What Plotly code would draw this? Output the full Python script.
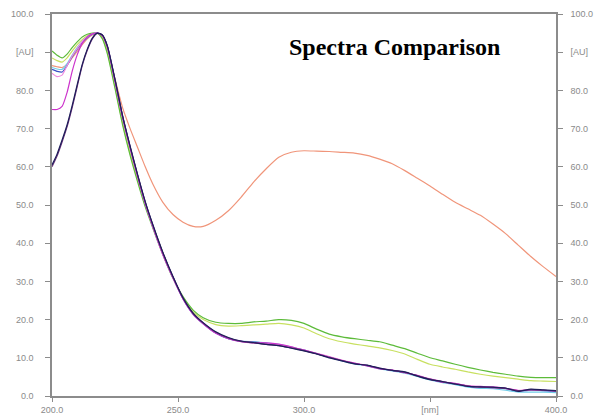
import plotly.graph_objects as go

# Wavelength grid (nm)
wl = [200, 202, 204, 206, 208, 210, 212, 214, 216, 218, 220, 222, 225, 228, 231, 234, 237, 240,
      244, 248, 252, 256, 260, 265, 270, 275, 280, 285, 290, 295, 300, 305, 310, 315, 320, 325,
      330, 335, 340, 345, 350, 355, 360, 365, 370, 375, 380, 385, 390, 395, 400]

orange = [86.5, 86.2, 86.0, 86.8, 88.5, 90.2, 92.0, 93.5, 94.5, 95.0, 93.8, 90.5, 83.0, 75.5, 70.0,
          65.0, 60.0, 55.5, 50.7, 47.5, 45.5, 44.4, 44.4, 46.0, 48.5, 52.0, 56.0, 59.5, 62.5, 63.8,
          64.2, 64.1, 64.0, 63.8, 63.6, 63.0, 62.0, 60.8, 59.0, 57.0, 55.0, 52.8, 50.7, 49.0, 47.3,
          45.0, 42.5, 39.5, 36.5, 33.8, 31.3]

green = [90.3, 89.2, 88.5, 89.5, 91.2, 92.7, 94.0, 94.7, 95.0, 95.0, 93.5, 89.5, 80.5, 71.0, 63.0,
         56.0, 49.5, 44.0, 37.0, 30.8, 26.0, 22.5, 20.5, 19.3, 19.0, 19.0, 19.4, 19.6, 20.0, 19.8,
         19.0, 17.5, 16.2, 15.5, 15.0, 14.6, 14.2, 13.3, 12.4, 11.2, 10.0, 9.2, 8.3, 7.5, 6.8,
         6.2, 5.7, 5.2, 4.9, 4.8, 4.8]

yellowgreen = [88.5, 87.8, 87.4, 88.5, 90.3, 92.0, 93.3, 94.3, 94.9, 95.0, 93.8, 90.0, 81.0, 71.5, 63.5,
               56.5, 50.0, 44.5, 37.5, 31.0, 25.8, 22.0, 20.0, 18.7, 18.3, 18.4, 18.6, 18.8, 19.0, 18.6,
               17.8, 16.3, 15.0, 14.2, 13.6, 13.1, 12.6, 11.9, 11.0, 9.6, 8.3, 7.6, 7.0, 6.3, 5.7,
               5.2, 4.8, 4.4, 4.0, 3.9, 3.8]

pink = [84.5, 83.6, 84.0, 86.5, 89.0, 91.0, 92.8, 94.0, 94.8, 95.0, 94.3, 91.3, 82.5, 73.0, 65.0,
        57.5, 50.5, 44.5, 37.2, 31.0, 25.5, 21.5, 19.0, 16.6, 15.1, 14.4, 14.0, 13.7, 13.4, 12.8,
        12.0, 11.2, 10.3, 9.4, 8.6, 8.0, 7.3, 6.8, 6.2, 5.3, 4.5, 3.8, 3.2, 2.7, 2.3,
        2.2, 2.0, 1.5, 1.6, 1.5, 1.3]

magenta = [75.0, 75.0, 75.8, 79.5, 85.0, 89.3, 92.3, 94.0, 94.8, 95.0, 94.3, 91.2, 82.3, 72.8, 64.8,
           57.3, 50.3, 44.3, 37.0, 30.9, 25.4, 21.4, 18.9, 16.4, 15.0, 14.2, 13.9, 13.9, 13.6, 12.9,
           12.0, 11.1, 10.2, 9.3, 8.6, 7.9, 7.1, 6.8, 6.1, 5.4, 4.4, 3.6, 3.3, 2.6, 2.5,
           2.4, 2.0, 1.4, 1.7, 1.5, 1.4]

purple = [60.0, 62.8, 66.5, 70.5, 75.5, 81.0, 86.5, 90.5, 93.5, 95.0, 94.5, 91.5, 82.8, 73.3, 65.3,
          57.8, 50.8, 44.8, 37.5, 31.2, 25.6, 21.6, 19.1, 16.7, 15.2, 14.3, 13.9, 13.5, 13.2, 12.6,
          11.9, 11.1, 10.1, 9.3, 8.5, 8.0, 7.2, 6.7, 6.2, 5.3, 4.4, 3.7, 3.2, 2.6, 2.3,
          2.2, 2.0, 1.4, 1.6, 1.5, 1.3]

blue = [85.5, 85.0, 84.8, 86.5, 88.8, 90.8, 92.5, 93.8, 94.7, 95.0, 94.4, 91.4, 82.6, 73.2, 65.1,
        57.6, 50.6, 44.6, 37.3, 31.1, 25.5, 21.5, 19.0, 16.5, 15.0, 14.3, 14.1, 13.8, 13.4, 12.7,
        12.0, 11.1, 10.2, 9.3, 8.5, 8.0, 7.2, 6.7, 6.2, 5.3, 4.4, 3.7, 3.2, 2.6, 2.3,
        2.2, 1.9, 1.3, 1.5, 1.4, 1.2]

cyan = [86.0, 85.6, 85.5, 87.0, 89.2, 91.2, 92.8, 94.0, 94.8, 95.0, 94.4, 91.3, 82.5, 73.0, 65.0,
        57.5, 50.5, 44.5, 37.2, 31.0, 25.4, 21.4, 18.9, 16.5, 15.0, 14.4, 14.2, 13.9, 13.5, 12.8,
        12.0, 11.1, 10.2, 9.2, 8.4, 7.9, 7.1, 6.6, 6.0, 5.1, 4.2, 3.5, 3.0, 2.3, 2.0,
        1.9, 1.5, 1.0, 1.0, 1.0, 0.9]

navy = [60.5, 63.3, 67.0, 71.0, 76.0, 81.5, 86.8, 90.8, 93.7, 95.0, 94.5, 91.6, 82.9, 73.4, 65.4,
        57.9, 50.9, 44.9, 37.6, 31.3, 25.7, 21.7, 19.2, 16.8, 15.3, 14.4, 14.0, 13.5, 13.2, 12.5,
        11.8, 11.0, 10.0, 9.2, 8.4, 8.1, 7.3, 6.7, 6.3, 5.2, 4.3, 3.8, 3.1, 2.5, 2.4,
        2.3, 2.1, 1.2, 1.8, 1.6, 1.4]

series = [
    ("Orange", orange, "#F0957A"),
    ("Yellow-green", yellowgreen, "#C8E060"),
    ("Green", green, "#5DBB3A"),
    ("Cyan", cyan, "#70CCE8"),
    ("Blue", blue, "#3A4FC8"),
    ("Pink", pink, "#F08CE0"),
    ("Magenta", magenta, "#CC33CC"),
    ("Purple", purple, "#6A2F7A"),
    ("Navy", navy, "#1E1E5A"),
]

y_ticks = [0, 10, 20, 30, 40, 50, 60, 70, 80, 90, 100]
y_labels = ["0.0", "10.0", "20.0", "30.0", "40.0", "50.0", "60.0", "70.0", "80.0", "[AU]", "100.0"]
x_ticks = [200, 250, 300, 350, 400]
x_labels = ["200.0", "250.0", "300.0", "[nm]", "400.0"]

fig = go.Figure()
for name, vals, col in series:
    fig.add_trace(go.Scatter(x=wl, y=vals, mode="lines", name=name,
                             line=dict(color=col, width=1.2, shape="spline", smoothing=0.6)))
# invisible trace to activate right axis
fig.add_trace(go.Scatter(x=[wl[0]], y=[0], yaxis="y2", mode="markers",
                         marker=dict(opacity=0), showlegend=False, hoverinfo="skip"))

tickfont = dict(family="Liberation Sans, Arial, sans-serif", size=9, color="#8a8a8a")
axcol = "#8c8c8c"

fig.update_layout(
    width=595, height=417,
    margin=dict(l=52, r=39, t=14, b=21, autoexpand=False),
    paper_bgcolor="white", plot_bgcolor="white",
    showlegend=False,
    xaxis=dict(range=[200, 400], tickvals=x_ticks, ticktext=x_labels, ticks="outside",
               ticklen=4, tickcolor=axcol, showline=True, linecolor=axcol, linewidth=1.5,
               mirror=True, showgrid=False, zeroline=False, tickfont=tickfont, automargin=False),
    yaxis=dict(range=[0, 100], tickvals=y_ticks, ticktext=y_labels, ticks="outside",
               ticklen=5, tickcolor=axcol, showline=True, linecolor=axcol, linewidth=1.5,
               showgrid=False, zeroline=False, tickfont=tickfont, ticklabelstandoff=10,
               automargin=False),
    yaxis2=dict(range=[0, 100], tickvals=y_ticks, ticktext=y_labels, ticks="outside",
                ticklen=5, tickcolor=axcol, showline=True, linecolor=axcol, linewidth=1.5,
                overlaying="y", side="right", showgrid=False, zeroline=False,
                tickfont=tickfont, ticklabelstandoff=6, automargin=False),
    annotations=[dict(text="<b>Spectra Comparison</b>", xref="paper", yref="paper",
                      x=0.68, y=0.914, xanchor="center", yanchor="middle", showarrow=False,
                      font=dict(family="Liberation Serif, Times New Roman, serif", size=24,
                                color="black"))],
)

fig.write_html("out.html")
